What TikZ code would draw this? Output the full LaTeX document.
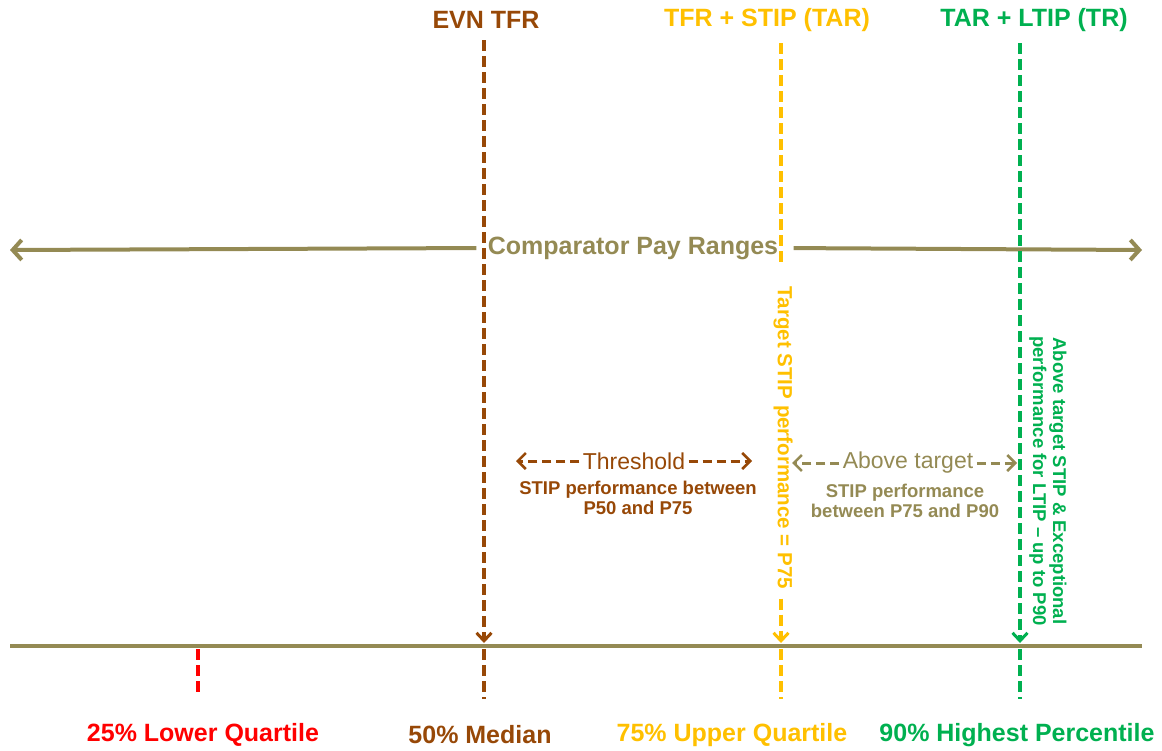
\documentclass[tikz,border=0pt]{standalone}
\usepackage{fontspec}
\setmainfont{Liberation Sans}
\usetikzlibrary{arrows.meta}
\definecolor{paygrey}{RGB}{148,138,84}
\definecolor{evnbrown}{RGB}{151,72,7}
\definecolor{taryellow}{RGB}{255,192,0}
\definecolor{trgreen}{RGB}{0,176,80}
\begin{document}
\begin{tikzpicture}[x=1pt, y=-1pt,
    big/.style={font=\fontsize{25}{28}\selectfont\bfseries},
    mid/.style={font=\fontsize{23}{26}\selectfont},
    small/.style={font=\fontsize{18.5}{20}\selectfont\bfseries, align=center},
    pline/.style={line width=3.5pt, dash pattern=on 11pt off 5pt},
    tip/.style={-{Straight Barb[length=8pt,width=15pt,line width=3pt]}},
    band/.style={line width=3pt, dash pattern=on 9pt off 5pt, -{Straight Barb[length=8pt,width=16pt,line width=2.5pt]}}]
  \useasboundingbox (0,0) rectangle (1162,750);

  % titles
  \node[big, evnbrown] (evn) at (486,20) {EVN TFR};
  \node[big, taryellow] (tar) at (767,20) {TFR + STIP (TAR)};
  \node[big, trgreen] (tr) at (1034,20) {TAR + LTIP (TR)};

  % comparator range
  \node[big, paygrey] (cmp) at (633,248) {Comparator Pay Ranges};
  \coordinate (cl) at (10,250);
  \coordinate (cr) at (1142,250);
  \draw[line width=4pt, paygrey, -{Straight Barb[length=9pt,width=20pt]}, shorten <=8pt] (cmp.west) -- (cl);
  \draw[line width=4pt, paygrey, -{Straight Barb[length=9pt,width=20pt]}, shorten <=12pt] (cmp.east) -- (cr);

  % percentile axis
  \coordinate (bl) at (10,646);
  \coordinate (br) at (1142,646);
  \coordinate (p25) at (198,646);
  \coordinate (p50) at (484,646);
  \coordinate (p75) at (781,646);
  \coordinate (p90) at (1020,646);
  \draw[line width=4pt, paygrey] (bl) -- (br);

  % markers
  \draw[pline, red] ([yshift=-3pt]p25) -- ++(0,48);
  \draw[pline, evnbrown, tip, shorten <=8pt] (p50 |- evn.south) -- ([yshift=3pt]p50);
  \draw[pline, evnbrown] ([yshift=-3pt]p50) -- ++(0,50);

  \node[small, font=\fontsize{20.5}{22}\selectfont\bfseries, rotate=-90, taryellow] (ytxt) at (783,438) {Target STIP performance = P75};
  \draw[pline, taryellow, shorten <=8pt] (p75 |- tar.south) -- ([yshift=18pt]p75 |- ytxt.west);
  \draw[pline, taryellow, tip] ([yshift=-6pt]p75 |- ytxt.east) -- ([yshift=3pt]p75);
  \draw[pline, taryellow] ([yshift=-3pt]p75) -- ++(0,50);

  \node[small, rotate=-90, trgreen] (gtxt) at (1048,481) {Above target STIP \& Exceptional\\performance for LTIP -- up to P90};
  \draw[pline, trgreen, tip, shorten <=8pt] (p90 |- tr.south) -- ([yshift=3pt]p90);
  \draw[pline, trgreen] ([yshift=-3pt]p90) -- ++(0,50);

  % bands
  \node[mid, evnbrown] (thr) at (634,461) {Threshold};
  \node[small, evnbrown] (thrtxt) at (638,498) {STIP performance between\\P50 and P75};
  \coordinate (thrl) at (516,461);
  \coordinate (thrr) at (752,461);
  \draw[band, evnbrown] (thr.west) -- (thrl);
  \draw[band, evnbrown] (thr.east) -- (thrr);

  \node[mid, paygrey] (abv) at (908,463) {Above target};
  \node[small, paygrey] (abvtxt) at (905,501) {STIP performance\\between P75 and P90};
  \coordinate (abvl) at (792,463);
  \coordinate (abvr) at (1017,463);
  \draw[band, paygrey] (abv.west) -- (abvl);
  \draw[band, paygrey] (abv.east) -- (abvr);

  % percentile labels
  \node[big, red] (l25) at (203,735) {25\% Lower Quartile};
  \node[big, evnbrown] (l50) at (480,735) {50\% Median};
  \node[big, taryellow] (l75) at (732,735) {75\% Upper Quartile};
  \node[big, trgreen] (l90) at (1017,735) {90\% Highest Percentile};
\end{tikzpicture}
\end{document}
